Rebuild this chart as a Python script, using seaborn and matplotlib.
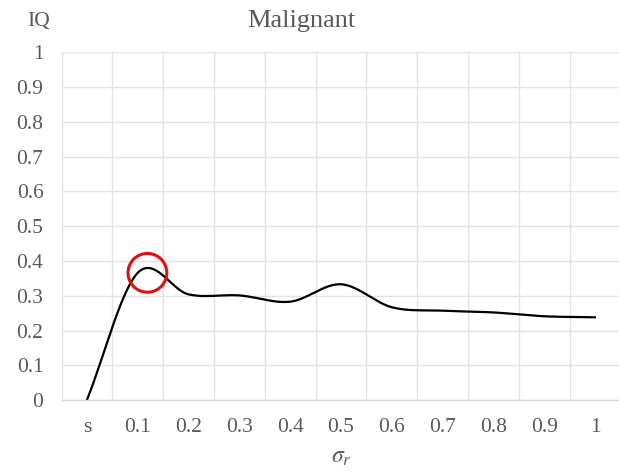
import numpy as np
import pandas as pd
import matplotlib
matplotlib.use("Agg")
import matplotlib.pyplot as plt
import seaborn as sns

# sigma_r categories and the IQ measured for the malignant class
categories = ["s", "0.1", "0.2", "0.3", "0.4", "0.5", "0.6", "0.7", "0.8", "0.9", "1"]
iq_values = [0.0, 0.366, 0.304, 0.301, 0.283, 0.333, 0.267, 0.257, 0.252, 0.241, 0.238]
y_ticks = [0, 0.1, 0.2, 0.3, 0.4, 0.5, 0.6, 0.7, 0.8, 0.9, 1]
y_tick_labels = ["0", "0.1", "0.2", "0.3", "0.4", "0.5", "0.6", "0.7", "0.8", "0.9", "1"]

# highlighted peak region (category position, IQ)
highlight_x = 1.19
highlight_y = 0.366


def smooth_curve(y, samples=40):
    """Catmull-Rom smoothing through the category points (spreadsheet-style smoothed line)."""
    y = np.asarray(y, dtype=float)
    n = len(y)
    # reflected phantom points keep the end segments pointing along the data
    pts = np.concatenate([[2 * y[0] - y[1]], y, [2 * y[-1] - y[-2]]])
    xs, ys = [], []
    for i in range(n - 1):
        p0, p1, p2, p3 = pts[i], pts[i + 1], pts[i + 2], pts[i + 3]
        m1 = (p2 - p0) / 2.0
        m2 = (p3 - p1) / 2.0
        t = np.linspace(0, 1, samples, endpoint=(i == n - 2))
        h00 = 2 * t**3 - 3 * t**2 + 1
        h10 = t**3 - 2 * t**2 + t
        h01 = -2 * t**3 + 3 * t**2
        h11 = t**3 - t**2
        xs.append(i + t)
        ys.append(h00 * p1 + h10 * m1 + h01 * p2 + h11 * m2)
    return np.concatenate(xs), np.concatenate(ys)


sns.set_theme(style="white")
plt.rcParams["font.family"] = ["Liberation Serif", "DejaVu Serif"]
plt.rcParams["mathtext.fontset"] = "stix"

text_color = "#595959"
grid_color = "#e3e3e3"
axis_color = "#d9d9d9"

fig = plt.figure(figsize=(6.19, 4.72), dpi=100)
ax = fig.add_axes([0.0994, 0.1525, 0.903, 0.7363])

sx, sy = smooth_curve(iq_values)
curve = pd.DataFrame({"pos": sx, "IQ": sy})
sns.lineplot(data=curve, x="pos", y="IQ", ax=ax, color="black", linewidth=1.6,
             sort=False, estimator=None)

ax.scatter([highlight_x], [highlight_y], s=780, facecolors="none",
           edgecolors="#e01010", linewidths=2.2, zorder=5)

ax.set_xlim(-0.5, len(categories) - 0.5)
ax.set_ylim(0, 1)
ax.set_xticks(range(len(categories)))
ax.set_xticklabels(categories)
ax.set_yticks(y_ticks)
ax.set_yticklabels(y_tick_labels)

# vertical grid lines sit between categories
ax.set_xticks(np.arange(-0.5, len(categories), 1.0), minor=True)
ax.grid(False)
ax.grid(True, which="minor", axis="x", color=grid_color, linewidth=1.0)
ax.grid(True, which="major", axis="y", color=grid_color, linewidth=1.0)
ax.set_axisbelow(True)

for side in ["left", "right", "top"]:
    ax.spines[side].set_visible(False)
ax.spines["bottom"].set_color(axis_color)
ax.spines["bottom"].set_linewidth(1.0)

ax.tick_params(axis="both", which="both", length=0, labelsize=15.5, colors=text_color)
ax.tick_params(axis="y", pad=13)
ax.tick_params(axis="x", pad=13)
ax.set_xlabel("")
ax.set_ylabel("")

fig.text(0.063, 0.955, "IQ", fontsize=15.5, color=text_color, ha="center", va="center")
fig.text(0.487, 0.955, "Malignant", fontsize=19, color=text_color, ha="center", va="center")
fig.text(0.552, 0.03, r"$\sigma_r$", fontsize=17, color=text_color, ha="center", va="center")

fig.savefig("out.png", dpi=100)
